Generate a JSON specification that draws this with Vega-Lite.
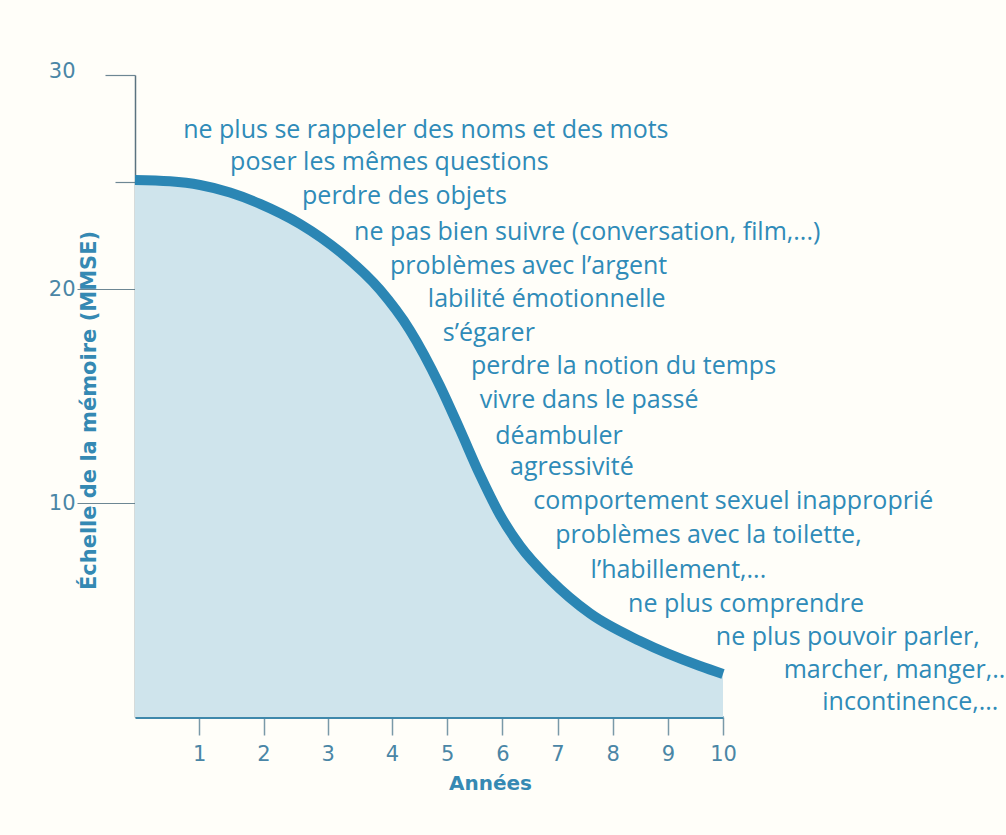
{
  "$schema": "https://vega.github.io/schema/vega-lite/v6.json",
  "width": 588,
  "height": 642,
  "autosize": "none",
  "padding": {"left": 135, "top": 75, "right": 283, "bottom": 118},
  "background": "#fffef9",
  "config": {
    "view": {"stroke": null},
    "font": "DejaVu Sans",
    "axis": {"grid": false}
  },
  "datasets": {
    "curve": [
      {"year": 0, "score": 25.09},
      {"year": 0.545, "score": 25.03},
      {"year": 1.012, "score": 24.86},
      {"year": 1.479, "score": 24.51},
      {"year": 1.946, "score": 23.98},
      {"year": 2.568, "score": 23.04},
      {"year": 3.191, "score": 21.73},
      {"year": 3.813, "score": 19.96},
      {"year": 4.326, "score": 18.07},
      {"year": 4.87, "score": 15.47},
      {"year": 5.233, "score": 13.42},
      {"year": 5.595, "score": 11.31},
      {"year": 5.958, "score": 9.44},
      {"year": 6.32, "score": 8.0},
      {"year": 6.864, "score": 6.43},
      {"year": 7.589, "score": 4.84},
      {"year": 8.495, "score": 3.55},
      {"year": 9.583, "score": 2.38},
      {"year": 10, "score": 2.01}
    ],
    "labels": [
      {"x": 0.75, "y": 27.43, "t": "ne plus se rappeler des noms et des mots"},
      {"x": 1.48, "y": 25.93, "t": "poser les mêmes questions"},
      {"x": 2.6, "y": 24.35, "t": "perdre des objets"},
      {"x": 3.41, "y": 22.66, "t": "ne pas bien suivre (conversation, film,...)"},
      {"x": 3.97, "y": 21.07, "t": "problèmes avec l’argent"},
      {"x": 4.65, "y": 19.53, "t": "labilité émotionnelle"},
      {"x": 4.92, "y": 17.94, "t": "s’égarer"},
      {"x": 5.43, "y": 16.4, "t": "perdre la notion du temps"},
      {"x": 5.59, "y": 14.81, "t": "vivre dans le passé"},
      {"x": 5.87, "y": 13.13, "t": "déambuler"},
      {"x": 6.14, "y": 11.68, "t": "agressivité"},
      {"x": 6.56, "y": 10.09, "t": "comportement sexuel inapproprié"},
      {"x": 6.96, "y": 8.5, "t": "problèmes avec la toilette,"},
      {"x": 7.6, "y": 6.87, "t": "l’habillement,..."},
      {"x": 8.28, "y": 5.28, "t": "ne plus comprendre"},
      {"x": 9.87, "y": 3.74, "t": "ne plus pouvoir parler,"},
      {"x": 11.1, "y": 2.2, "t": "marcher, manger,.."},
      {"x": 11.8, "y": 0.7, "t": "incontinence,..."}
    ]
  },
  "layer": [
    {
      "data": {"name": "curve"},
      "mark": {"type": "area", "interpolate": "monotone", "color": "#cfe4ec"},
      "encoding": {
        "x": {
          "field": "year", "type": "quantitative",
          "scale": {"domain": [0, 4, 10], "range": [0, 257, 588], "nice": false},
          "axis": {
            "values": [1, 2, 3, 4, 5, 6, 7, 8, 9, 10],
            "format": "d",
            "labelOverlap": false,
            "labelFlush": false,
            "title": "Années",
            "titleX": 355,
            "titleY": 66,
            "titleAlign": "center",
            "titleBaseline": "middle",
            "titleFont": "DejaVu Sans",
            "titleFontSize": 20,
            "titleFontWeight": "bold",
            "titleColor": "#3589b3",
            "domainColor": "#3f88ab",
            "domainWidth": 3,
            "tickColor": "#7a99a8",
            "tickWidth": 1.5,
            "tickSize": 18,
            "labelPadding": 8,
            "labelFontSize": 21,
            "labelColor": "#4a86a6",
            "labelFont": "DejaVu Sans"
          }
        },
        "y": {
          "field": "score", "type": "quantitative",
          "scale": {"domain": [0, 30], "nice": false},
          "axis": {
            "values": [10, 20, 25, 30],
            "labelExpr": "datum.value == 25 ? '' : datum.label",
            "labelOverlap": false,
            "labelFlush": false,
            "title": "Échelle de la mémoire (MMSE)",
            "titleX": -46,
            "titleY": 335,
            "titleAngle": -90,
            "titleAlign": "center",
            "titleBaseline": "middle",
            "titleFont": "DejaVu Sans",
            "titleFontSize": 21,
            "titleFontWeight": "bold",
            "titleColor": "#3589b3",
            "domainColor": "#5b7380",
            "domainWidth": 1.5,
            "tickColor": "#6d8794",
            "tickWidth": 1.2,
            "tickSize": {"condition": [{"test": "datum.value == 25", "value": 20}, {"test": "datum.value == 30", "value": 30}], "value": 58},
            "labelPadding": {"condition": {"test": "datum.value == 30", "value": 30}, "value": 2},
            "labelOffset": {"condition": {"test": "datum.value == 30", "value": -4}, "value": 0},
            "labelFontSize": 21,
            "labelColor": "#4a86a6",
            "labelFont": "DejaVu Sans"
          }
        }
      }
    },
    {
      "data": {"name": "curve"},
      "mark": {"type": "line", "interpolate": "monotone", "color": "#2b86b4", "strokeWidth": 10, "strokeCap": "butt"},
      "encoding": {
        "x": {"field": "year", "type": "quantitative"},
        "y": {"field": "score", "type": "quantitative"}
      }
    },
    {
      "data": {"name": "labels"},
      "mark": {"type": "text", "align": "left", "baseline": "middle", "font": "Open Sans", "fontSize": 25, "color": "#2f8bb8"},
      "encoding": {
        "x": {"field": "x", "type": "quantitative"},
        "y": {"field": "y", "type": "quantitative"},
        "text": {"field": "t", "type": "nominal"}
      }
    }
  ]
}
